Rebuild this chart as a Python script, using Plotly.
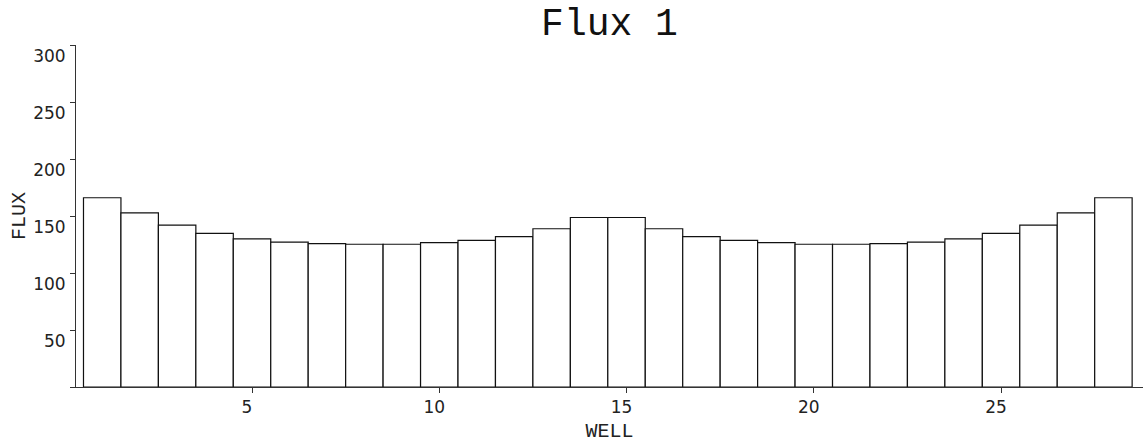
import plotly.graph_objects as go

wells = list(range(1, 29))
flux = [166.0, 152.8, 142.0, 134.8, 129.9, 127.0, 125.8, 125.2, 125.2, 126.7,
        128.7, 131.9, 138.8, 148.7, 148.7, 138.8, 131.9, 128.7, 126.7, 125.2,
        125.2, 125.8, 127.0, 129.9, 134.8, 142.0, 152.8, 166.0]
x_ticks = [5, 10, 15, 20, 25]
y_ticks = [0, 50, 100, 150, 200, 250, 300]
y_tick_text = ["", "50", "100", "150", "200", "250", "300"]

mono = "Liberation Mono, Courier New, monospace"
sans = "DejaVu Sans, sans-serif"

fig = go.Figure(go.Bar(
    x=wells, y=flux, width=1.0,
    marker=dict(color="white", line=dict(color="#111111", width=1.2)),
))

fig.update_layout(
    width=1147, height=443,
    margin=dict(l=76, r=4, t=45, b=53),
    paper_bgcolor="white", plot_bgcolor="white",
    showlegend=False,
    title=dict(text="Flux 1", x=0.5, xanchor="center", xref="paper",
               y=0.95, yanchor="middle", yref="container",
               font=dict(family=mono, size=38, color="#111111")),
)
fig.update_xaxes(
    range=[0.30, 28.79], tickvals=x_ticks, showgrid=False, zeroline=False,
    showline=True, linecolor="#333333", linewidth=1,
    ticks="outside", ticklen=5, tickcolor="#333333",
    ticklabelshift=-5,
    tickfont=dict(family=sans, size=17, color="#222222"),
    title=dict(text="WELL", font=dict(family=mono, size=20, color="#222222"), standoff=8),
)
fig.update_yaxes(
    range=[0, 300], tickvals=y_ticks, ticktext=y_tick_text,
    showgrid=False, zeroline=False,
    showline=True, linecolor="#333333", linewidth=1,
    ticks="outside", ticklen=5, tickcolor="#333333",
    ticklabelshift=11, ticklabelstandoff=1,
    tickfont=dict(family=sans, size=17, color="#222222"),
    title=dict(text="FLUX", font=dict(family=mono, size=20, color="#222222"), standoff=2),
)

fig.write_html("out.html")
